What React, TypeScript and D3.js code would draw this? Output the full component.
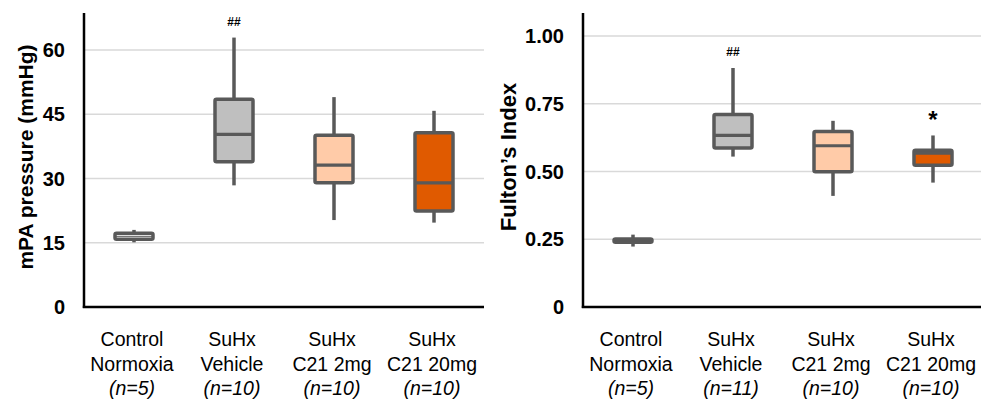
import React, { useRef, useEffect } from 'react';
import * as d3 from 'd3';

// group labels (two lines each) and group sizes
const groupLines: string[][] = [
  ['Control', 'Normoxia'],
  ['SuHx', 'Vehicle'],
  ['SuHx', 'C21 2mg'],
  ['SuHx', 'C21 20mg'],
];
const groupKeys = ['ctrl', 'veh', 'c21_2', 'c21_20'];
const nPressure = [5, 10, 10, 10];
const nFulton = [5, 11, 10, 10];

const boxFills = ['#ffffff', '#bfbfbf', '#ffcba8', '#e05a00'];

// [min, q1, median, q3, max]
const pressureStats: number[][] = [
  [15.1, 15.8, 16.5, 17.2, 18.0],
  [28.4, 33.9, 40.3, 48.5, 62.9],
  [20.3, 29.0, 33.1, 40.1, 49.0],
  [19.7, 22.4, 29.0, 40.7, 45.8],
];
const fultonStats: number[][] = [
  [0.223, 0.239, 0.245, 0.251, 0.267],
  [0.555, 0.587, 0.633, 0.71, 0.882],
  [0.41, 0.499, 0.595, 0.648, 0.687],
  [0.459, 0.523, 0.568, 0.578, 0.633],
];

const pressureTicks = [0, 15, 30, 45, 60];
const fultonTicks = [0, 0.25, 0.5, 0.75, 1.0];

// significance marks: [group index, text]
const pressureMarks: [number, string][] = [[1, '##']];
const fultonMarks: [number, string][] = [[1, '##'], [3, '*']];

const FONT = '"Liberation Sans", Arial, Helvetica, sans-serif';
const STROKE = '#595959';

type Panel = {
  left: number;
  right: number;
  stats: number[][];
  ticks: number[];
  tickFmt: (v: number) => string;
  yMax: number;
  yTopPx: number;
  title: string;
  titleX: number;
  titleSize: number;
  ns: number[];
  marks: [number, string][];
};

function drawPanel(svg: d3.Selection<SVGSVGElement, unknown, null, undefined>, p: Panel) {
  const top = 13;
  const bottom = 307;

  const x = d3.scaleBand().domain(groupKeys).range([p.left, p.right]);
  const y = d3.scaleLinear().domain([0, p.yMax]).range([bottom, p.yTopPx]);

  const g = svg.append('g');

  // gridlines
  g.selectAll('.grid')
    .data(p.ticks.filter(t => t > 0))
    .enter()
    .append('line')
    .attr('x1', p.left)
    .attr('x2', p.right)
    .attr('y1', d => y(d))
    .attr('y2', d => y(d))
    .attr('stroke', '#d9d9d9')
    .attr('stroke-width', 1.5);

  // tick labels
  g.selectAll('.tick')
    .data(p.ticks)
    .enter()
    .append('text')
    .attr('x', p.left - 19)
    .attr('y', d => y(d))
    .attr('dy', '0.36em')
    .attr('text-anchor', 'end')
    .style('font-family', FONT)
    .style('font-size', '20px')
    .style('font-weight', 'bold')
    .text(d => p.tickFmt(d));

  // axis title
  g.append('text')
    .attr('transform', `translate(${p.titleX}, 157) rotate(-90)`)
    .attr('text-anchor', 'middle')
    .attr('dy', '0.36em')
    .style('font-family', FONT)
    .style('font-size', `${p.titleSize}px`)
    .style('font-weight', 'bold')
    .text(p.title);

  const bw = 38;
  // boxes
  p.stats.forEach((s, i) => {
    const cx = x(groupKeys[i])! + x.bandwidth() / 2;
    const [mn, q1, med, q3, mx] = s;
    g.append('line')
      .attr('x1', cx).attr('x2', cx)
      .attr('y1', y(mx)).attr('y2', y(q3))
      .attr('stroke', STROKE).attr('stroke-width', 3.5);
    g.append('line')
      .attr('x1', cx).attr('x2', cx)
      .attr('y1', y(q1)).attr('y2', y(mn))
      .attr('stroke', STROKE).attr('stroke-width', 3.5);
    g.append('rect')
      .attr('x', cx - bw / 2)
      .attr('y', y(q3))
      .attr('width', bw)
      .attr('height', y(q1) - y(q3))
      .attr('rx', 1.5)
      .attr('fill', boxFills[i])
      .attr('stroke', STROKE)
      .attr('stroke-width', 3.5);
    g.append('line')
      .attr('x1', cx - bw / 2).attr('x2', cx + bw / 2)
      .attr('y1', y(med)).attr('y2', y(med))
      .attr('stroke', STROKE).attr('stroke-width', i === 0 ? 1 : 3.2);
  });

  // significance marks
  p.marks.forEach(([i, txt]) => {
    const cx = x(groupKeys[i])! + x.bandwidth() / 2;
    const star = txt === '*';
    g.append('text')
      .attr('x', cx)
      .attr('y', star ? y(p.stats[i][4]) - 7 : y(p.stats[i][4]) - 12)
      .attr('text-anchor', 'middle')
      .style('font-family', FONT)
      .style('font-size', star ? '24px' : '12px')
      .style('font-weight', 'bold')
      .text(txt);
  });

  // axes
  g.append('line')
    .attr('x1', p.left).attr('x2', p.left)
    .attr('y1', top).attr('y2', bottom + 1)
    .attr('stroke', '#000').attr('stroke-width', 2.5);
  g.append('line')
    .attr('x1', p.left - 1.2).attr('x2', p.right)
    .attr('y1', bottom).attr('y2', bottom)
    .attr('stroke', '#000').attr('stroke-width', 2.5);

  // category labels
  groupKeys.forEach((k, i) => {
    const cx = x(k)! + x.bandwidth() / 2 - 2;
    const t = g.append('text')
      .attr('x', cx)
      .attr('text-anchor', 'middle')
      .style('font-family', FONT)
      .style('font-size', '19.5px');
    groupLines[i].forEach((line, j) => {
      t.append('tspan').attr('x', cx).attr('y', 346 + j * 24.5).text(line);
    });
    t.append('tspan')
      .attr('x', cx)
      .attr('y', 395)
      .style('font-style', 'italic')
      .text(`(n=${p.ns[i]})`);
  });
}

const App = () => {
  const svgRef = useRef<SVGSVGElement>(null);

  useEffect(() => {
    const svg = d3.select(svgRef.current!);
    svg.selectAll('*').remove();

    drawPanel(svg, {
      left: 84,
      right: 484,
      stats: pressureStats,
      ticks: pressureTicks,
      tickFmt: v => String(v),
      yMax: 60,
      yTopPx: 50,
      title: 'mPA pressure (mmHg)',
      titleX: 25,
      titleSize: 21,
      ns: nPressure,
      marks: pressureMarks,
    });

    drawPanel(svg, {
      left: 583,
      right: 983,
      stats: fultonStats,
      ticks: fultonTicks,
      tickFmt: v => (v === 0 ? '0' : v.toFixed(2)),
      yMax: 1,
      yTopPx: 36,
      title: 'Fulton\u2019s Index',
      titleX: 508,
      titleSize: 22,
      ns: nFulton,
      marks: fultonMarks,
    });
  }, []);

  return (
    <svg
      ref={svgRef}
      width={981}
      height={399}
      style={{ position: 'absolute', left: 0, top: 0, background: '#fff' }}
    />
  );
};

export default App;
